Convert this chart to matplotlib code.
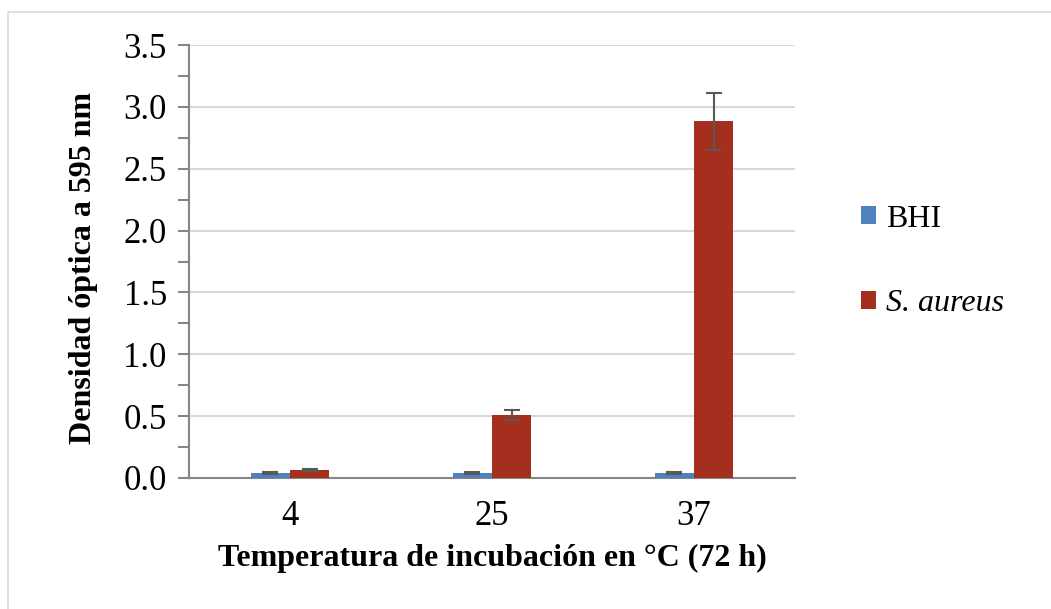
import matplotlib
matplotlib.use('Agg')

import matplotlib.pyplot as plt
from matplotlib.patches import Rectangle
import numpy as np

plt.rcParams['font.family'] = ['Liberation Serif', 'DejaVu Serif']

temps = ['4', '25', '37']
bhi = [0.04, 0.04, 0.04]
bhi_err = [0.005, 0.005, 0.005]
aureus = [0.065, 0.51, 2.885]
aureus_err = [0.01, 0.04, 0.23]

fig = plt.figure(figsize=(10.51, 6.09), dpi=100)
ax = fig.add_axes([189/1051, 1 - 478/609, (795-189)/1051, (478-45)/609])

# light outer border, only top and left visible
fig.patches.append(Rectangle((8/1051, -0.1), 1.2, 1 - 12/609 + 0.1, transform=fig.transFigure,
                             fill=False, edgecolor='#d9d9d9', linewidth=1.2))

x = np.arange(len(temps))
w = 0.195
ax.bar(x - w/2, bhi, w, color='#4F81BD', label='BHI', zorder=3,
       yerr=bhi_err, error_kw=dict(ecolor='#595959', elinewidth=1.5, capsize=6, capthick=1.5))
ax.bar(x + w/2, aureus, w, color='#A52F1F', label='S. aureus', zorder=3,
       yerr=aureus_err, error_kw=dict(ecolor='#595959', elinewidth=1.5, capsize=6, capthick=1.5))

ax.set_xlim(-0.5, 2.5)
ax.set_ylim(0, 3.5)
ax.set_yticks(np.arange(0, 3.51, 0.5))
ax.set_yticks(np.arange(0, 3.51, 0.25), minor=True)
ax.set_yticklabels(['%.1f' % v for v in np.arange(0, 3.51, 0.5)])
ax.set_xticks(x)
ax.set_xticklabels(temps)
ax.yaxis.grid(True, color='#d9d9d9', linewidth=1.5, zorder=0)
ax.set_axisbelow(True)

for s in ['top', 'right']:
    ax.spines[s].set_visible(False)
ax.spines['left'].set_color('#868686')
ax.spines['bottom'].set_color('#868686')
ax.spines['left'].set_linewidth(1.5)
ax.spines['bottom'].set_linewidth(1.5)
ax.tick_params(axis='y', which='both', direction='out', length=8, width=1.5, color='#868686',
               labelsize=25, pad=8)
ax.tick_params(axis='x', length=0, labelsize=25, pad=16)

ax.set_xlabel('Temperatura de incubación en °C (72 h)', fontsize=23, fontweight='bold', labelpad=8)
ax.set_ylabel('Densidad óptica a 595 nm', fontsize=23, fontweight='bold', labelpad=18, y=0.485)

leg = ax.legend(loc='center left', bbox_to_anchor=(1.062, 0.5), frameon=False, fontsize=23,
                handlelength=0.47, handleheight=0.47, handletextpad=0.3, labelspacing=1.75)
leg.get_texts()[1].set_fontstyle('italic')

plt.savefig('out.png', dpi=100)
